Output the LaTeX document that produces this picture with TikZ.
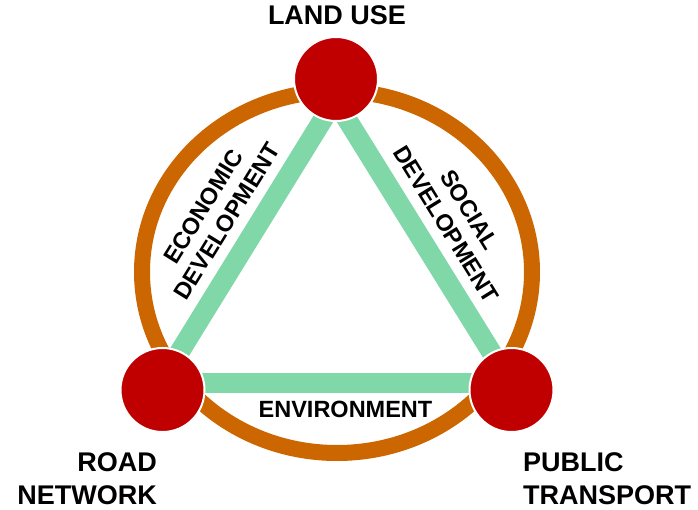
\documentclass[tikz,border=0pt]{standalone}
\usepackage{fontspec}
\setmainfont{Liberation Sans}
\usetikzlibrary{calc}
\definecolor{hubred}{HTML}{C00000}
\definecolor{ringorange}{HTML}{CC6600}
\definecolor{linkgreen}{HTML}{80D8A8}
\tikzset{
  hub/.style={circle, fill=hubred, draw=white, line width=2pt, minimum size=84pt, inner sep=0pt},
  link/.style={draw=linkgreen, line width=20pt, line cap=butt},
  ring/.style={draw=ringorange, line width=16pt},
  biglabel/.style={font=\bfseries\fontsize{27}{33}\selectfont, inner sep=0pt},
  linklabel/.style={font=\bfseries\fontsize{23.5}{28}\selectfont, inner sep=0pt, align=center}
}
\begin{document}
\begin{tikzpicture}[x=1pt,y=-1pt]
\useasboundingbox (0,0) rectangle (698,510);
% outer ring
\draw[ring] (337,272) ellipse [x radius=195, y radius=181];
% hubs (positions)
\coordinate (luc) at (336,79);
\coordinate (rnc) at (162.5,390);
\coordinate (ptc) at (511.5,390);
% green triangle corners
\coordinate (ga) at ($(luc)+(-1,21)$);
\coordinate (gb) at ($(rnc)+(-2,-7)$);
\coordinate (gc) at ($(ptc)+(-1,-7)$);
\draw[link] (ga) -- (gb);
\draw[link] (ga) -- (gc);
\draw[link] (gb) -- (gc);
% hubs
\node[hub] (lu) at (luc) {};
\node[hub] (rn) at (rnc) {};
\node[hub] (pt) at (ptc) {};
% labels
\node[biglabel, anchor=base] (lulabel) at (337,25) {LAND USE};
\node[biglabel, anchor=north east, align=right] (rnlabel) at (157,452) {ROAD\\NETWORK};
\node[biglabel, anchor=north west, align=left] (ptlabel) at (523,452) {PUBLIC\\TRANSPORT};
\node[linklabel] (env) at (345.5,409) {ENVIRONMENT};
\node[linklabel, rotate=58.3] (eco) at (215,214) {ECONOMIC\\DEVELOPMENT};
\node[linklabel, rotate=-58.3] (soc) at (458,217) {SOCIAL\\DEVELOPMENT};
\end{tikzpicture}
\end{document}
